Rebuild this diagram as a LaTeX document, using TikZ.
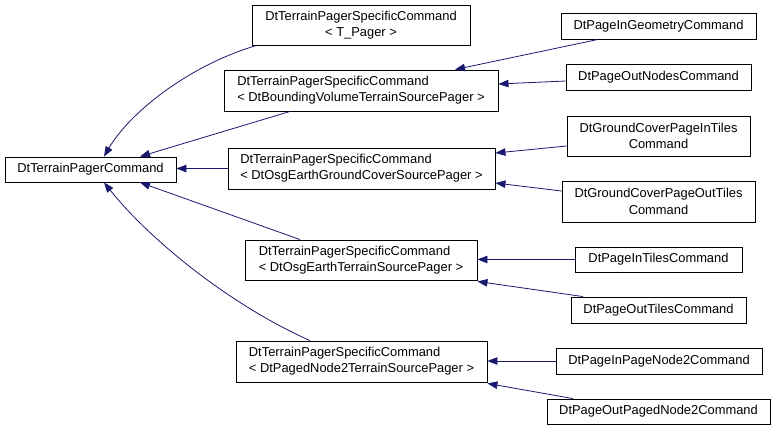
\documentclass[tikz,border=0pt]{standalone}
\usepackage{fontspec}
\setmainfont{Liberation Sans}
\usetikzlibrary{arrows.meta}
\definecolor{edgeblue}{HTML}{191970}
\begin{document}
\begin{tikzpicture}[x=1pt,y=-1pt,
  cls/.style={draw=black, line width=0.9pt, fill=white, inner sep=0pt, font=\fontsize{12.9}{16.3}\selectfont},
  edge/.style={draw=edgeblue, line width=0.8pt, -{Triangle[length=10pt,width=7.5pt]}, fill=none}]
\useasboundingbox (0,0) rectangle (776,431);
% nodes
\node[cls, minimum width=171pt, minimum height=25pt] (root) at (90.5,169.5) {DtTerrainPagerCommand};
\node[cls, minimum width=218pt, minimum height=40pt, align=center] (tp) at (361,25) {DtTerrainPagerSpecificCommand\\ {< T\_Pager >}};
\node[cls, minimum width=274pt, minimum height=41pt, align=left] (bv) at (361,90.5) {DtTerrainPagerSpecificCommand\\ {< DtBoundingVolumeTerrainSourcePager >}};
\node[cls, minimum width=267pt, minimum height=41pt, align=left] (gc) at (361.5,168.5) {DtTerrainPagerSpecificCommand\\ {< DtOsgEarthGroundCoverSourcePager >}};
\node[cls, minimum width=232pt, minimum height=40pt, align=left] (oe) at (361,260) {DtTerrainPagerSpecificCommand\\ {< DtOsgEarthTerrainSourcePager >}};
\node[cls, minimum width=251pt, minimum height=41pt, align=left] (pn) at (361.5,361.5) {DtTerrainPagerSpecificCommand\\ {< DtPagedNode2TerrainSourcePager >}};
\node[cls, minimum width=195pt, minimum height=26pt] (pig) at (658.5,26) {DtPageInGeometryCommand};
\node[cls, minimum width=185pt, minimum height=26pt] (pon) at (658.5,77) {DtPageOutNodesCommand};
\node[cls, minimum width=183pt, minimum height=40pt, align=center] (gci) at (658.5,136) {DtGroundCoverPageInTiles\\ Command};
\node[cls, minimum width=193pt, minimum height=41pt, align=center] (gco) at (658.5,201.5) {DtGroundCoverPageOutTiles\\ Command};
\node[cls, minimum width=167pt, minimum height=25pt] (pit) at (658.5,259.5) {DtPageInTilesCommand};
\node[cls, minimum width=175pt, minimum height=26pt] (pot) at (658.5,310) {DtPageOutTilesCommand};
\node[cls, minimum width=206pt, minimum height=26pt] (pipn) at (659,361) {DtPageInPageNode2Command};
\node[cls, minimum width=223pt, minimum height=25pt] (popn) at (658.5,411.5) {DtPageOutPagedNode2Command};
% edges to root
\draw[edge] ([xshift=5pt]tp.south west) .. controls (190,65) and (130,112) .. ([xshift=13.5pt]root.north);
\draw[edge] ([xshift=-71pt]bv.south) -- ([xshift=49.5pt]root.north);
\draw[edge] (gc.west) -- (gc.west -| root.east);
\draw[edge] ([xshift=-61pt]oe.north) -- ([xshift=49.5pt]root.south);
\draw[edge] ([xshift=-51.5pt]pn.north) .. controls (230,305) and (150,240) .. ([xshift=13.5pt]root.south);
% edges on the right
\draw[edge] ([xshift=-60.5pt]pig.south) -- ([xshift=94pt]bv.north);
\draw[edge] ([yshift=-4pt]pon.west) -- ([yshift=6.5pt]bv.east);
\draw[edge] ([yshift=-10pt]gci.west) -- ([yshift=15.5pt]gc.east);
\draw[edge] ([yshift=10.5pt]gco.west) -- ([yshift=-14.5pt]gc.east);
\draw[edge] (pit.west) -- (pit.west -| oe.east);
\draw[edge] ([xshift=-75.5pt]pot.north) -- ([yshift=-1pt]oe.south east);
\draw[edge] (pipn.west) -- (pipn.west -| pn.east);
\draw[edge] ([xshift=-85.5pt]popn.north) -- ([yshift=-1pt]pn.south east);
\end{tikzpicture}
\end{document}
